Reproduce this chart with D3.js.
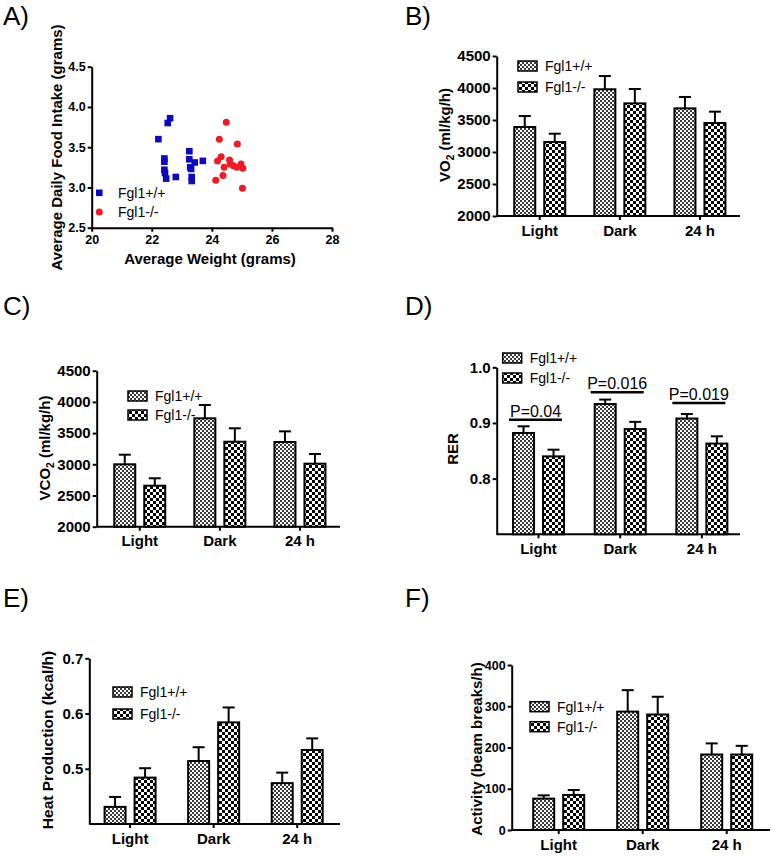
<!DOCTYPE html>
<html><head><meta charset="utf-8">
<script src="https://cdn.jsdelivr.net/npm/d3@7"></script>
<style>body{margin:0;background:#fff}svg{display:block;font-family:"Liberation Sans",Arial,sans-serif}</style>
</head><body><svg id="c" width="773" height="857"></svg>
<script>
// ---------- data ----------
const categories = ["Light", "Dark", "24 h"];
const groups = ["Fgl1+/+", "Fgl1-/-"];

// A) scatter: average weight (g) vs average daily food intake (g)
const wtWeight = [22.61, 22.53, 22.22, 22.42, 22.42, 22.42, 22.44, 22.48, 22.80, 23.25, 23.25, 23.28, 23.31, 23.43, 23.33, 23.33, 23.70];
const wtIntake = [3.86, 3.80, 3.60, 3.36, 3.32, 3.22, 3.18, 3.11, 3.13, 3.45, 3.35, 3.25, 3.23, 3.31, 3.13, 3.08, 3.33];
const koWeight = [24.48, 24.25, 24.85, 24.31, 24.19, 24.59, 24.61, 24.41, 24.72, 24.83, 24.97, 25.03, 24.37, 24.13, 25.02];
const koIntake = [3.81, 3.60, 3.54, 3.38, 3.33, 3.34, 3.29, 3.25, 3.27, 3.25, 3.29, 3.24, 3.15, 3.09, 2.99];
const scatterXTicks = [20, 22, 24, 26, 28];
const scatterYTicks = [2.5, 3.0, 3.5, 4.0, 4.5];

// B) VO2
const vo2WT = [3390, 3980, 3682], vo2WTsem = [172, 207, 178];
const vo2KO = [3156, 3760, 3453], vo2KOsem = [130, 224, 177];
const vo2Ticks = [2000, 2500, 3000, 3500, 4000, 4500];

// C) VCO2
const vco2WT = [3000, 3737, 3357], vco2WTsem = [154, 213, 171];
const vco2KO = [2657, 3362, 3010], vco2KOsem = [119, 215, 155];
const vco2Ticks = [2000, 2500, 3000, 3500, 4000, 4500];

// D) RER
const rerWT = [0.882, 0.934, 0.908], rerWTsem = [0.012, 0.008, 0.008];
const rerKO = [0.840, 0.889, 0.863], rerKOsem = [0.012, 0.013, 0.013];
const rerTicks = [0.8, 0.9, 1.0];
const rerPLabels = ["P=0.04", "P=0.016", "P=0.019"];
const rerPLevels = [0.906, 0.955, 0.936];

// E) Heat production
const heatWT = [0.431, 0.514, 0.474], heatWTsem = [0.018, 0.025, 0.019];
const heatKO = [0.484, 0.584, 0.534], heatKOsem = [0.017, 0.027, 0.021];
const heatTicks = [0.5, 0.6, 0.7];

// F) Activity
const actWT = [76, 287, 183], actWTsem = [8, 52, 27];
const actKO = [85, 280, 183], actKOsem = [12, 43, 21];
const actTicks = [0, 100, 200, 300, 400];

// ---------- drawing ----------
const svg = d3.select("#c");
const defs = svg.append("defs");
function checker(id, cell, color) {
  const p = defs.append("pattern").attr("id", id).attr("patternUnits", "userSpaceOnUse")
    .attr("width", cell * 2).attr("height", cell * 2);
  p.append("rect").attr("width", cell * 2).attr("height", cell * 2).attr("fill", "#fff");
  p.append("rect").attr("width", cell).attr("height", cell).attr("fill", color);
  p.append("rect").attr("x", cell).attr("y", cell).attr("width", cell).attr("height", cell).attr("fill", color);
}
checker("pWT", 2, "#3a3a3a");
checker("pKO", 3, "#000");
const fills = ["url(#pWT)", "url(#pKO)"];

function panelLabel(t, x, y) {
  svg.append("text").attr("x", x).attr("y", y).attr("font-size", 26).attr("fill", "#000").text(t);
}

function styleAxis(g, fontSize) {
  g.selectAll(".domain").attr("stroke", "#000").attr("stroke-width", 2);
  g.selectAll(".tick line").attr("stroke", "#000").attr("stroke-width", 2);
  g.selectAll(".tick text").attr("fill", "#000").attr("font-size", fontSize)
    .attr("font-weight", "bold").attr("font-family", '"Liberation Sans",Arial,sans-serif');
}

function yTitle(x, y, parts, fs) {
  const t = svg.append("text").attr("transform", `translate(${x},${y}) rotate(-90)`)
    .attr("text-anchor", "middle").attr("dy", "0.35em").attr("font-size", fs).attr("font-weight", "bold");
  parts.forEach(pt => {
    const s = t.append("tspan").text(pt.t);
    if (pt.sub) s.attr("font-size", fs * 0.68).attr("dy", 4);
    if (pt.after) s.attr("dy", -4);
  });
}

// A) scatter
(function () {
  panelLabel("A)", 3, 25);
  const x = d3.scaleLinear().domain([20, 28]).range([91.7, 332]);
  const y = d3.scaleLinear().domain([2.5, 4.5]).range([227.7, 66.7]);
  const gx = svg.append("g").attr("transform", "translate(0,227.7)")
    .call(d3.axisBottom(x).tickValues(scatterXTicks).tickSize(4).tickSizeOuter(0).tickPadding(3));
  styleAxis(gx, 12.5);
  const gy = svg.append("g").attr("transform", "translate(91.7,0)")
    .call(d3.axisLeft(y).tickValues(scatterYTicks).tickFormat(d3.format(".1f")).tickSize(4).tickSizeOuter(0).tickPadding(2));
  styleAxis(gy, 12.5);
  const wt = wtWeight.map((w, i) => ({ w, f: wtIntake[i] }));
  const ko = koWeight.map((w, i) => ({ w, f: koIntake[i] }));
  svg.append("g").selectAll("rect").data(wt).join("rect")
    .attr("x", d => x(d.w) - 3.3).attr("y", d => y(d.f) - 3.3).attr("width", 6.6).attr("height", 6.6)
    .attr("fill", "#0a0ac0");
  svg.append("g").selectAll("circle").data(ko).join("circle")
    .attr("cx", d => x(d.w)).attr("cy", d => y(d.f)).attr("r", 3.5).attr("fill", "#ec1c24");
  // legend
  svg.append("rect").attr("x", 96).attr("y", 189.5).attr("width", 6.6).attr("height", 6.6).attr("fill", "#0a0ac0");
  svg.append("circle").attr("cx", 99.3).attr("cy", 212).attr("r", 3.5).attr("fill", "#ec1c24");
  svg.append("text").attr("x", 118).attr("y", 193).attr("dy", "0.35em").attr("font-size", 14).text(groups[0]);
  svg.append("text").attr("x", 118).attr("y", 212).attr("dy", "0.35em").attr("font-size", 14).text(groups[1]);
  svg.append("text").attr("x", 210).attr("y", 264).attr("text-anchor", "middle")
    .attr("font-size", 15).attr("font-weight", "bold").text("Average Weight (grams)");
  yTitle(57, 147.5, [{ t: "Average Daily Food Intake (grams)" }], 15);
})();

function drawBarPanel(p) {
  panelLabel(p.label, p.labelPos[0], p.labelPos[1]);
  const x = d3.scaleBand().domain(categories).range(p.band);
  const y = d3.scaleLinear().domain(p.domain).range([p.yBot, p.yTop]);
  const gx = svg.append("g").attr("transform", `translate(0,${p.yBot})`)
    .call(d3.axisBottom(x).tickSize(4).tickSizeOuter(0).tickPadding(5));
  gx.select(".domain").attr("d", `M${p.x0},0H${p.x1}`);
  styleAxis(gx, 15);
  const gy = svg.append("g").attr("transform", `translate(${p.x0},0)`)
    .call(d3.axisLeft(y).tickValues(p.ticks).tickFormat(d3.format(p.fmt)).tickSize(4).tickSizeOuter(0).tickPadding(2));
  styleAxis(gy, p.tickFont);

  const rows = [];
  categories.forEach((c, i) => {
    rows.push({ c, k: 0, v: p.wt[i], e: p.wtSem[i] });
    rows.push({ c, k: 1, v: p.ko[i], e: p.koSem[i] });
  });
  const cx = d => x(d.c) + x.bandwidth() / 2 + (d.k === 0 ? -15 : 15);
  const g = svg.append("g");
  // error bars (upper only)
  g.selectAll("line.err").data(rows).join("line").attr("class", "err")
    .attr("x1", cx).attr("x2", cx).attr("y1", d => y(d.v)).attr("y2", d => y(d.v + d.e))
    .attr("stroke", "#000").attr("stroke-width", 2);
  g.selectAll("line.cap").data(rows).join("line").attr("class", "cap")
    .attr("x1", d => cx(d) - 6).attr("x2", d => cx(d) + 6).attr("y1", d => y(d.v + d.e)).attr("y2", d => y(d.v + d.e))
    .attr("stroke", "#000").attr("stroke-width", 2);
  g.selectAll("rect.bar").data(rows).join("rect").attr("class", "bar")
    .attr("x", d => cx(d) - 10.5).attr("width", 21)
    .attr("y", d => y(d.v)).attr("height", d => p.yBot - y(d.v))
    .attr("fill", d => fills[d.k]).attr("stroke", "#000").attr("stroke-width", 2);

  // legend
  groups.forEach((gname, k) => {
    const ly = p.legend.y + k * p.legend.dy;
    svg.append("rect").attr("x", p.legend.x).attr("y", ly).attr("width", 19).attr("height", 10)
      .attr("fill", fills[k]).attr("stroke", "#000").attr("stroke-width", 1.5);
    svg.append("text").attr("x", p.legend.x + 27).attr("y", ly + 5).attr("dy", "0.35em")
      .attr("font-size", 14).text(gname);
  });
  yTitle(p.title.x, p.title.y, p.title.parts, p.title.fs);

  if (p.pLabels) {
    const pg = svg.append("g");
    categories.forEach((c, i) => {
      const left = x(c) + x.bandwidth() / 2 - 15 - 10.5 - 4;
      const right = x(c) + x.bandwidth() / 2 + 15 + 10.5 - 2;
      const ly = y(p.pLevels[i]);
      pg.append("line").attr("x1", left).attr("x2", right).attr("y1", ly).attr("y2", ly)
        .attr("stroke", "#000").attr("stroke-width", 2.5);
      pg.append("text").attr("x", (left + right) / 2).attr("y", ly - 3).attr("text-anchor", "middle")
        .attr("font-size", 16).text(p.pLabels[i]);
    });
  }
}

drawBarPanel({
  label: "B)", labelPos: [405, 25], x0: 496.7, x1: 740, band: [499.7, 740], yTop: 56, yBot: 216,
  domain: [2000, 4500], ticks: vo2Ticks, fmt: "d", tickFont: 15,
  wt: vo2WT, wtSem: vo2WTsem, ko: vo2KO, koSem: vo2KOsem,
  legend: { x: 518, y: 61, dy: 21 },
  title: { x: 445, y: 135, fs: 15, parts: [{ t: "VO" }, { t: "2", sub: true }, { t: " (ml/kg/h)", after: true }] }
});
drawBarPanel({
  label: "C)", labelPos: [3, 315], x0: 96.7, x1: 340, band: [99.7, 340], yTop: 370.7, yBot: 526.7,
  domain: [2000, 4500], ticks: vco2Ticks, fmt: "d", tickFont: 15,
  wt: vco2WT, wtSem: vco2WTsem, ko: vco2KO, koSem: vco2KOsem,
  legend: { x: 128, y: 391, dy: 19 },
  title: { x: 45, y: 448, fs: 15, parts: [{ t: "VCO" }, { t: "2", sub: true }, { t: " (ml/kg/h)", after: true }] }
});
drawBarPanel({
  label: "D)", labelPos: [405, 315], x0: 496.7, x1: 740, band: [497.7, 742.7], yTop: 367.3, yBot: 534.3,
  domain: [0.7, 1.0], ticks: rerTicks, fmt: ".1f", tickFont: 15,
  wt: rerWT, wtSem: rerWTsem, ko: rerKO, koSem: rerKOsem,
  legend: { x: 502.7, y: 353, dy: 20 },
  title: { x: 453, y: 449, fs: 15, parts: [{ t: "RER" }] },
  pLabels: rerPLabels, pLevels: rerPLevels
});
drawBarPanel({
  label: "E)", labelPos: [3, 607], x0: 89.3, x1: 340, band: [88.3, 339], yTop: 658.3, yBot: 824,
  domain: [0.4, 0.7], ticks: heatTicks, fmt: ".1f", tickFont: 15,
  wt: heatWT, wtSem: heatWTsem, ko: heatKO, koSem: heatKOsem,
  legend: { x: 113, y: 687, dy: 22 },
  title: { x: 47.5, y: 740, fs: 15.5, parts: [{ t: "Heat Production (kcal/h)" }] }
});
drawBarPanel({
  label: "F)", labelPos: [405, 607], x0: 511.7, x1: 770, band: [516.7, 768.7], yTop: 665, yBot: 830,
  domain: [0, 400], ticks: actTicks, fmt: "d", tickFont: 12.5,
  wt: actWT, wtSem: actWTsem, ko: actKO, koSem: actKOsem,
  legend: { x: 530, y: 701.7, dy: 20 },
  title: { x: 476.5, y: 749, fs: 15, parts: [{ t: "Activity (beam breaks/h)" }] }
});
</script></body></html>
